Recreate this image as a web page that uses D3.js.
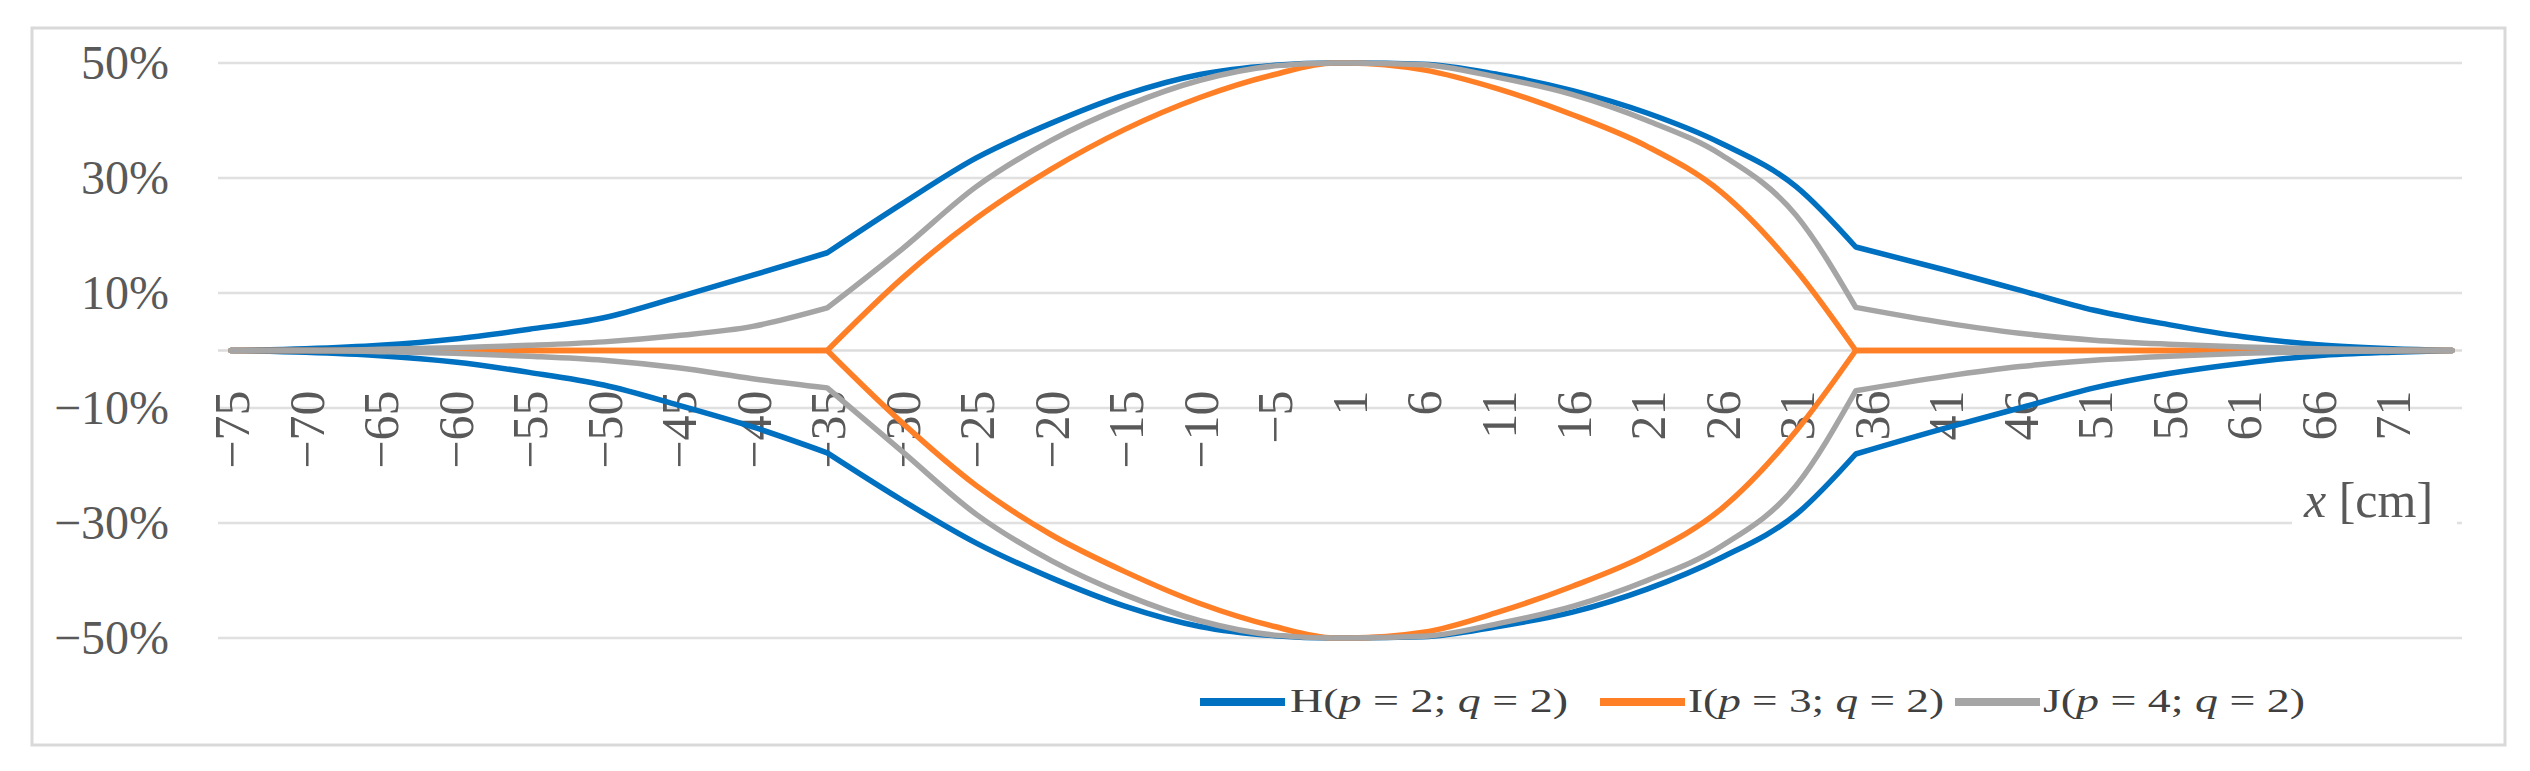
<!DOCTYPE html>
<html>
<head>
<meta charset="utf-8">
<script src="https://cdn.jsdelivr.net/npm/d3@7"></script>
<style>
  html, body { margin: 0; padding: 0; background: #fff; }
  svg { display: block; }
</style>
</head>
<body>
<svg id="chart" width="2530" height="771"></svg>
<script>
// ---------- data ----------
const categories = d3.range(-75, 0).concat(d3.range(1, 76)); // x [cm] categories (no 0)
const tickLabels = [-75,-70,-65,-60,-55,-50,-45,-40,-35,-30,-25,-20,-15,-10,-5,1,6,11,16,21,26,31,36,41,46,51,56,61,66,71];
const yTicks = [50, 30, 10, -10, -30, -50];

const xs = [-75,-70,-65,-60,-55,-50,-45,-40,-35,-30,-25,-20,-15,-10,-5,-1,1,6,11,16,21,26,31,35,41,46,51,56,61,66,71,75];
const kinks = [-35, 35];

const H_upper = [0,0.3,0.9,2,3.7,5.7,9.3,13.1,17,25.5,33.5,39.5,44.5,48,49.6,50,50,49.8,48,45.2,41.3,36,28.5,18,14,10.5,7,4.5,2.4,1,0.3,0];
const H_lower = [0,-0.3,-0.9,-2,-3.8,-6,-9.5,-13.3,-17.8,-26,-33.5,-39.5,-44.5,-48,-49.6,-50,-50,-49.8,-48,-45.5,-41.5,-36,-28.5,-18,-13.5,-10,-6.5,-4,-2.2,-0.9,-0.3,0];

const I_upper = [0,0,0,0,0,0,0,0,0,12.5,23,31.5,38.5,44,48,50,50,48.8,45.5,41,35.5,27.5,14,0,0,0,0,0,0,0,0,0];
const I_lower = [0,0,0,0,0,0,0,0,0,-12.5,-23.5,-32,-38.5,-44,-48,-50,-50,-49,-45.5,-41,-35.5,-27.5,-14,0,0,0,0,0,0,0,0,0];

const J_upper = [0,0,0.2,0.5,0.9,1.5,2.6,4.2,7.4,17.6,28.5,36.5,42.5,47,49.5,50,50,49.7,47.5,44.5,40,34,23.5,7.5,4.8,3,1.8,1.1,0.6,0.3,0.1,0];
const J_lower = [0,0,-0.2,-0.5,-1,-1.7,-3,-4.9,-6.5,-17.5,-28.5,-36.5,-42.5,-47,-49.5,-50,-50,-49.7,-47.5,-44.5,-40,-34,-23.5,-7,-4.5,-2.8,-1.7,-1,-0.5,-0.2,-0.1,0];

const seriesNames = ["H", "I", "J"];
const seriesParams = [[2,2],[3,2],[4,2]];
const seriesColors = ["#0070C0", "#FF7F27", "#A5A5A5"];

// ---------- layout ----------
const svg = d3.select("#chart");
const W = 2530, H = 771;
const plotLeft = 218, plotRight = 2462;

svg.append("rect").attr("x", 0).attr("y", 0).attr("width", W).attr("height", H).attr("fill", "#fff");
svg.append("rect").attr("x", 32).attr("y", 28).attr("width", 2473).attr("height", 717)
  .attr("fill", "#fff").attr("stroke", "#d9d9d9").attr("stroke-width", 3);

const x = d3.scalePoint().domain(categories).range([231, 2452]);
const y = d3.scaleLinear().domain([-50, 50]).range([638, 63]);

const font = "'Liberation Serif', 'Times New Roman', serif";
const textColor = "#595959";

// gridlines
svg.append("g").selectAll("line").data(yTicks).join("line")
  .attr("x1", plotLeft).attr("x2", plotRight)
  .attr("y1", d => y(d)).attr("y2", d => y(d))
  .attr("stroke", "#e0e0e0").attr("stroke-width", 2.5);

// horizontal axis line at 0
svg.append("line").attr("x1", plotLeft).attr("x2", plotRight)
  .attr("y1", y(0)).attr("y2", y(0)).attr("stroke", "#dcdcdc").attr("stroke-width", 2.5);

// y axis labels
const yAxis = d3.axisLeft(y).tickValues(yTicks).tickSize(0).tickPadding(0)
  .tickFormat(d => (d < 0 ? "\u2212" : "") + Math.abs(d) + "%");
const gy = svg.append("g").attr("transform", "translate(169,0)").call(yAxis);
gy.select(".domain").remove();
gy.selectAll("text").attr("font-family", font).attr("font-size", 48).attr("fill", textColor)
  .attr("x", 0).attr("dy", "0.33em");

// x axis labels (rotated), anchored just below the zero line
const xAxis = d3.axisBottom(x).tickValues(tickLabels).tickSize(0)
  .tickFormat(d => (d < 0 ? "\u2212" : "") + Math.abs(d));
const gx = svg.append("g").attr("transform", `translate(0,${y(0)})`).call(xAxis);
gx.select(".domain").remove();
gx.selectAll("text")
  .attr("font-family", font).attr("font-size", 50).attr("fill", textColor)
  .attr("text-anchor", "end")
  .attr("transform", "translate(0,40) rotate(-90)")
  .attr("x", 0).attr("y", 0).attr("dy", "0.35em");

// white box behind the axis title
svg.append("rect").attr("x", 2292).attr("y", 470).attr("width", 165).attr("height", 62).attr("fill", "#fff");
const xt = svg.append("text").attr("x", 2304).attr("y", 517)
  .attr("font-family", font).attr("font-size", 50).attr("fill", textColor);
xt.append("tspan").attr("font-style", "italic").text("x");
xt.append("tspan").text(" [cm]");

// lines: smooth (monotone) pieces joined with sharp corners at the kinks
const seg = d3.line()
  .x(d => x(d[0]))
  .y(d => y(d[1]))
  .curve(d3.curveMonotoneX);

function buildPath(vals) {
  const pts = xs.map((c, i) => [c, vals[i]]);
  const cuts = [0, ...kinks.map(k => xs.indexOf(k)), pts.length - 1];
  let d = "";
  for (let j = 0; j < cuts.length - 1; j++) {
    const piece = seg(pts.slice(cuts[j], cuts[j + 1] + 1));
    d += j === 0 ? piece : piece.replace(/^M[^A-Za-z]*/, "L" + x(pts[cuts[j]][0]) + "," + y(pts[cuts[j]][1]));
  }
  return d;
}

const allSeries = [[H_upper, H_lower], [I_upper, I_lower], [J_upper, J_lower]];
const gl = svg.append("g");
allSeries.forEach((pair, k) => {
  pair.forEach(vals => {
    gl.append("path").attr("d", buildPath(vals))
      .attr("fill", "none").attr("stroke", seriesColors[k]).attr("stroke-width", 5.5)
      .attr("stroke-linejoin", "round").attr("stroke-linecap", "round");
  });
});

// legend
const legendItems = [
  { sx: 1200, tx: 1290, tw: 278 },
  { sx: 1600, tx: 1688, tw: 256 },
  { sx: 1955, tx: 2043, tw: 262 }
];
const lg = svg.append("g");
legendItems.forEach((it, k) => {
  lg.append("line").attr("x1", it.sx).attr("x2", it.sx + 85).attr("y1", 702).attr("y2", 702)
    .attr("stroke", seriesColors[k]).attr("stroke-width", 8);
  const t = lg.append("text").attr("x", it.tx).attr("y", 712)
    .attr("font-family", font).attr("font-size", 34).attr("fill", "#404040")
    .attr("textLength", it.tw).attr("lengthAdjust", "spacingAndGlyphs");
  t.append("tspan").text(seriesNames[k] + "(");
  t.append("tspan").attr("font-style", "italic").text("p");
  t.append("tspan").text(" = " + seriesParams[k][0] + "; ");
  t.append("tspan").attr("font-style", "italic").text("q");
  t.append("tspan").text(" = " + seriesParams[k][1] + ")");
});
</script>
</body>
</html>
